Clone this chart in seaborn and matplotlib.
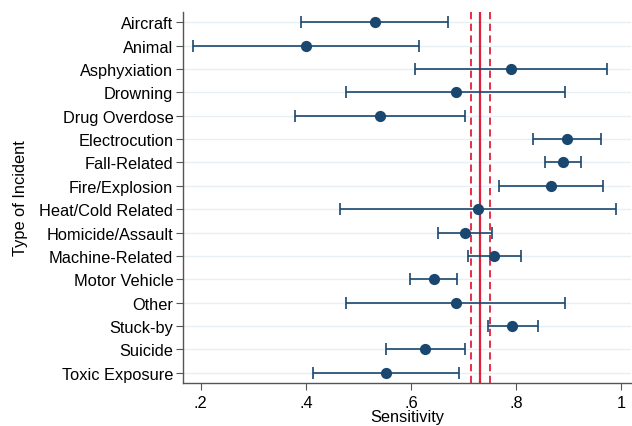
import numpy as np
import matplotlib
matplotlib.use("Agg")
import matplotlib.pyplot as plt
import pandas as pd
import seaborn as sns

categories = ["Aircraft", "Animal", "Asphyxiation", "Drowning", "Drug Overdose",
              "Electrocution", "Fall-Related", "Fire/Explosion", "Heat/Cold Related",
              "Homicide/Assault", "Machine-Related", "Motor Vehicle", "Other",
              "Stuck-by", "Suicide", "Toxic Exposure"]
sensitivity = [0.531, 0.400, 0.790, 0.685, 0.541, 0.897, 0.889, 0.867, 0.728,
               0.703, 0.759, 0.643, 0.685, 0.793, 0.627, 0.552]
ci_low = [0.391, 0.185, 0.607, 0.476, 0.380, 0.833, 0.855, 0.768, 0.465,
          0.652, 0.709, 0.599, 0.476, 0.747, 0.552, 0.413]
ci_high = [0.671, 0.615, 0.973, 0.894, 0.702, 0.961, 0.923, 0.966, 0.990,
           0.754, 0.810, 0.688, 0.894, 0.841, 0.703, 0.691]
overall = 0.731
overall_low = 0.714
overall_high = 0.750
xticks = [0.2, 0.4, 0.6, 0.8, 1.0]
xtick_labels = [".2", ".4", ".6", ".8", "1"]

df = pd.DataFrame({"incident": categories, "sens": sensitivity,
                   "lo": ci_low, "hi": ci_high})
df["pos"] = np.arange(len(df))

sns.set_style("white")
plt.rcParams["font.family"] = ["Liberation Sans", "DejaVu Sans"]
plt.rcParams["text.color"] = "black"
plt.rcParams["xtick.color"] = "black"
plt.rcParams["ytick.color"] = "black"
plt.rcParams["axes.labelcolor"] = "black"

navy = "#1a476f"
red = "#e0203c"
fs = 11.8

fig = plt.figure(figsize=(6.32, 4.27), dpi=100)
ax = fig.add_axes([183 / 632, 1 - 384 / 427, (631 - 183) / 632, (384 - 13) / 427])

for p in df["pos"]:
    ax.axhline(p, color="#e6eff3", lw=1.0, zorder=0)

ax.errorbar(df["sens"], df["pos"],
            xerr=[df["sens"] - df["lo"], df["hi"] - df["sens"]],
            fmt="none", ecolor=navy, elinewidth=1.2, capsize=4, capthick=1.2, zorder=2)
sns.scatterplot(data=df, x="sens", y="pos", color=navy, s=65, edgecolor=navy,
                linewidth=0, ax=ax, zorder=3)

ax.axvline(overall, color=red, lw=1.6, zorder=1)
ax.axvline(overall_low, color=red, lw=1.3, ls=(0, (4, 2.5)), zorder=1)
ax.axvline(overall_high, color=red, lw=1.3, ls=(0, (4, 2.5)), zorder=1)

ax.set_ylim(len(df) - 1 + 0.44, -0.44)
ax.set_xlim(0.166, 1.019)
ax.set_yticks(df["pos"])
ax.set_yticklabels(categories)
ax.set_xticks(xticks)
ax.set_xticklabels(xtick_labels)
ax.tick_params(axis="both", labelsize=fs, color="#555555", length=5,
               direction="out", left=True, bottom=True)
ax.tick_params(axis="y", pad=2)
ax.tick_params(axis="x", pad=4)
ax.set_xlabel("Sensitivity", fontsize=fs, labelpad=-1)
ax.set_ylabel("Type of Incident", fontsize=fs, labelpad=8)

for side in ["top", "right"]:
    ax.spines[side].set_visible(False)
for side in ["left", "bottom"]:
    ax.spines[side].set_color("#555555")
    ax.spines[side].set_linewidth(1.0)

fig.savefig("out.png", dpi=100)
